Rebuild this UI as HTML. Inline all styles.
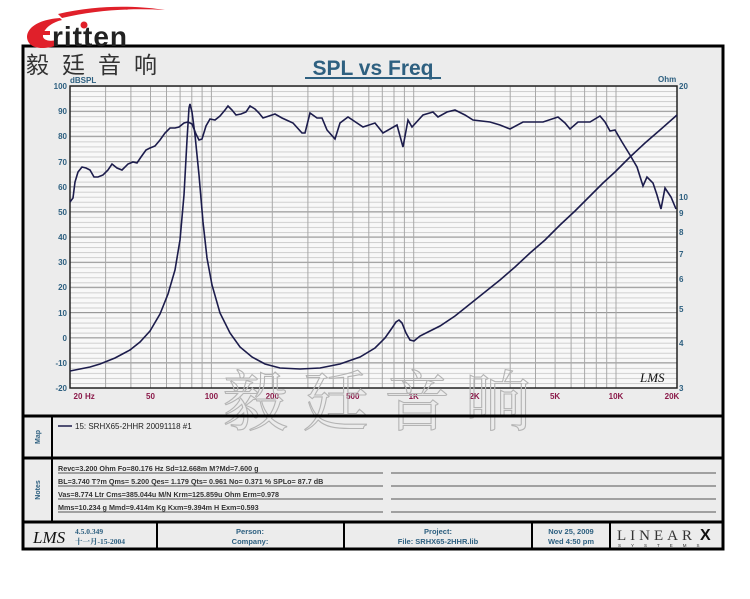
<!DOCTYPE html>
<html><head><meta charset="utf-8"><style>
html,body{margin:0;padding:0;background:#fff;}
svg{display:block;}
</style></head><body>
<svg width="750" height="599" viewBox="0 0 750 599" xmlns="http://www.w3.org/2000/svg" font-family="Liberation Sans, sans-serif">
<defs>
<pattern id="hm" x="70" y="86" width="10" height="5.0333" patternUnits="userSpaceOnUse">
<line x1="0" y1="0.5" x2="10" y2="0.5" stroke="#cfcfcf" stroke-width="1"/>
</pattern>
</defs>
<rect width="750" height="599" fill="#fff"/>
<!-- outer frame -->
<rect x="23" y="46" width="700" height="503" fill="#ececec" stroke="#000" stroke-width="3"/>
<!-- logo -->
<path d="M60,18 C30,20 22,35 30,44 C36,50 48,48 55,46 L58,40 C48,42 40,40 44,32 C48,24 58,21 62,20 Z" fill="#e0202a"/>
<path d="M58,14 C100,4 140,6 165,10 C130,8 95,10 62,18 Z" fill="#e0202a"/>
<rect x="36" y="31" width="14" height="4" fill="#e0202a"/>
<text x="52" y="46" font-size="28" font-weight="bold" fill="#222" letter-spacing="1">ritten</text>
<circle cx="84" cy="25" r="3.5" fill="#e0202a"/>
<text x="26" y="73" font-size="23" fill="#333" font-family="Liberation Sans, Noto Sans CJK SC, sans-serif" letter-spacing="13">毅廷音响</text>
<text x="373" y="75" font-size="21" font-weight="bold" fill="#2e6080" text-anchor="middle">SPL vs Freq</text>
<line x1="305" y1="78" x2="441" y2="78" stroke="#2e6080" stroke-width="2"/>
<!-- plot -->
<rect x="70" y="86" width="607" height="302" fill="#f8f8f8"/>
<rect x="70" y="86" width="607" height="302" fill="url(#hm)"/>
<g stroke="#999" stroke-width="1">
<line x1="70" x2="677" y1="111.2" y2="111.2"/><line x1="70" x2="677" y1="136.3" y2="136.3"/><line x1="70" x2="677" y1="161.5" y2="161.5"/><line x1="70" x2="677" y1="186.7" y2="186.7"/><line x1="70" x2="677" y1="211.8" y2="211.8"/><line x1="70" x2="677" y1="237" y2="237"/><line x1="70" x2="677" y1="262.2" y2="262.2"/><line x1="70" x2="677" y1="287.3" y2="287.3"/><line x1="70" x2="677" y1="312.5" y2="312.5"/><line x1="70" x2="677" y1="337.7" y2="337.7"/><line x1="70" x2="677" y1="362.8" y2="362.8"/>
</g>
<g stroke="#a8a8a8" stroke-width="1">
<line y1="86" y2="388" x1="105.6" x2="105.6"/><line y1="86" y2="388" x1="130.9" x2="130.9"/><line y1="86" y2="388" x1="150.5" x2="150.5"/><line y1="86" y2="388" x1="166.5" x2="166.5"/><line y1="86" y2="388" x1="180.1" x2="180.1"/><line y1="86" y2="388" x1="191.8" x2="191.8"/><line y1="86" y2="388" x1="202.1" x2="202.1"/><line y1="86" y2="388" x1="211.4" x2="211.4"/>
<line y1="86" y2="388" x1="272.3" x2="272.3"/><line y1="86" y2="388" x1="307.9" x2="307.9"/><line y1="86" y2="388" x1="333.2" x2="333.2"/><line y1="86" y2="388" x1="352.8" x2="352.8"/><line y1="86" y2="388" x1="368.8" x2="368.8"/><line y1="86" y2="388" x1="382.3" x2="382.3"/><line y1="86" y2="388" x1="394" x2="394"/><line y1="86" y2="388" x1="404.4" x2="404.4"/><line y1="86" y2="388" x1="413.7" x2="413.7"/>
<line y1="86" y2="388" x1="474.6" x2="474.6"/><line y1="86" y2="388" x1="510.2" x2="510.2"/><line y1="86" y2="388" x1="535.5" x2="535.5"/><line y1="86" y2="388" x1="555.1" x2="555.1"/><line y1="86" y2="388" x1="571.1" x2="571.1"/><line y1="86" y2="388" x1="584.6" x2="584.6"/><line y1="86" y2="388" x1="596.3" x2="596.3"/><line y1="86" y2="388" x1="606.7" x2="606.7"/><line y1="86" y2="388" x1="616" x2="616"/>
</g>
<rect x="70" y="86" width="607" height="302" fill="none" stroke="#222" stroke-width="1.5"/>
<!-- left axis -->
<g font-size="8" font-weight="bold" fill="#2e6080" text-anchor="end">
<text x="67" y="89">100</text><text x="67" y="114">90</text><text x="67" y="139">80</text><text x="67" y="165">70</text><text x="67" y="190">60</text><text x="67" y="215">50</text><text x="67" y="240">40</text><text x="67" y="265">30</text><text x="67" y="290">20</text><text x="67" y="316">10</text><text x="67" y="341">0</text><text x="67" y="366">-10</text><text x="67" y="391">-20</text>
</g>
<text x="70" y="83" font-size="8" font-weight="bold" fill="#2e6080">dBSPL</text>
<text x="658" y="82" font-size="8" font-weight="bold" fill="#2e6080">Ohm</text>
<g font-size="8" font-weight="bold" fill="#2e6080">
<text x="679" y="89">20</text><text x="679" y="200">10</text><text x="679" y="216">9</text><text x="679" y="235">8</text><text x="679" y="257">7</text><text x="679" y="282">6</text><text x="679" y="312">5</text><text x="679" y="346">4</text><text x="679" y="391">3</text>
</g>
<g font-size="8" font-weight="bold" fill="#8b1a4a" text-anchor="middle">
<text x="78" y="399">20</text><text x="85" y="399" text-anchor="start">Hz</text><text x="150.5" y="399">50</text><text x="211.4" y="399">100</text><text x="272.3" y="399">200</text><text x="352.8" y="399">500</text><text x="413.7" y="399">1K</text><text x="474.6" y="399">2K</text><text x="555.1" y="399">5K</text><text x="616" y="399">10K</text><text x="672" y="399">20K</text>
</g>
<text x="640" y="382" font-size="13" font-style="italic" fill="#111" font-family="Liberation Serif, serif">LMS</text>
<!-- impedance -->
<polyline fill="none" stroke="#1c1c4c" stroke-width="1.6" points="70,371 80,369 90,367 100,364 115,358 130,350 140,342 150,331 160,314 168,294 175,270 180,240 184,195 187,140 189,108 190,104 192,112 195,135 199,175 203,222 207,258 212,285 220,313 230,333 240,347 252,357 265,364 280,368 300,369 320,368 340,364 360,357 375,348 385,338 392,328 396,322 399,320 402,323 406,333 410,340 414,341 420,336 428,332 440,326 455,316 470,304 485,292 500,280 515,267 530,253 545,240 560,225 575,211 590,196 603,183 615,172 630,157 645,143 660,130 677,115"/>
<!-- SPL -->
<polyline fill="none" stroke="#1c1c4c" stroke-width="1.6" points="70,202 73,198 75,182 78,172 82,167 86,168 90,170 94,177 98,177 103,175 108,170 112,164 117,168 122,170 128,164 133,162 137,163 141,157 146,150 150,148 155,146 160,140 165,133 170,128 175,128 179,127 184,123 188,122 192,124 196,134 199,140 202,139 206,126 210,119 215,120 220,116 225,110 228,106 232,110 236,115 241,114 246,112 250,106 255,109 259,113 263,118 269,116 275,114 282,118 293,123 302,133 305,133 310,113 317,118 322,118 327,130 335,139 340,123 348,117 363,127 375,123 383,133 397,125 403,147 408,120 412,127 423,115 433,112 438,117 447,112 455,110 465,115 473,120 490,122 500,125 510,129 523,122 543,122 558,117 565,123 570,129 578,122 590,122 600,116 605,122 610,131 615,130 622,142 630,155 637,167 643,186 647,177 653,183 657,195 661,209 665,188 671,197 676,209"/>
<!-- watermark -->
<text x="222" y="425" font-size="66" fill="none" stroke="#b4b4b4" stroke-width="1.1" letter-spacing="15" font-family="Liberation Serif, Noto Serif CJK SC, serif">毅廷音响</text>
<!-- separators -->
<line x1="23" y1="416" x2="723" y2="416" stroke="#000" stroke-width="3"/>
<line x1="23" y1="458" x2="723" y2="458" stroke="#000" stroke-width="3"/>
<line x1="23" y1="522" x2="723" y2="522" stroke="#000" stroke-width="3"/>
<line x1="52" y1="416" x2="52" y2="522" stroke="#000" stroke-width="2"/>
<text transform="translate(40,437) rotate(-90)" font-size="7" font-weight="bold" fill="#2e6080" text-anchor="middle">Map</text>
<text transform="translate(40,490) rotate(-90)" font-size="7" font-weight="bold" fill="#2e6080" text-anchor="middle">Notes</text>
<line x1="58" y1="426" x2="72" y2="426" stroke="#1c1c4c" stroke-width="1.5"/>
<text x="75" y="429" font-size="8" fill="#222">15: SRHX65-2HHR  20091118   #1</text>
<g font-size="7.2" font-weight="bold" fill="#333">
<text x="58" y="471">Revc=3.200 Ohm  Fo=80.176 Hz  Sd=12.668m M?Md=7.600 g</text>
<text x="58" y="484">BL=3.740 T?m  Qms= 5.200  Qes= 1.179  Qts= 0.961  No= 0.371 %  SPLo= 87.7 dB</text>
<text x="58" y="497">Vas=8.774 Ltr  Cms=385.044u M/N  Krm=125.859u Ohm  Erm=0.978</text>
<text x="58" y="510">Mms=10.234 g  Mmd=9.414m Kg  Kxm=9.394m H  Exm=0.593</text>
</g>
<g stroke="#555" stroke-width="1">
<line x1="58" y1="473" x2="383" y2="473"/><line x1="391" y1="473" x2="716" y2="473"/>
<line x1="58" y1="486" x2="383" y2="486"/><line x1="391" y1="486" x2="716" y2="486"/>
<line x1="58" y1="499" x2="383" y2="499"/><line x1="391" y1="499" x2="716" y2="499"/>
<line x1="58" y1="512" x2="383" y2="512"/><line x1="391" y1="512" x2="716" y2="512"/>
</g>
<!-- footer -->
<g stroke="#000" stroke-width="2">
<line x1="157" y1="522" x2="157" y2="549"/><line x1="344" y1="522" x2="344" y2="549"/><line x1="532" y1="522" x2="532" y2="549"/><line x1="610" y1="522" x2="610" y2="549"/>
</g>
<text x="33" y="543" font-size="17" font-style="italic" fill="#111" font-family="Liberation Serif, serif">LMS</text>
<g font-size="7.5" font-weight="bold" fill="#2e6080" font-family="Liberation Serif, Noto Serif CJK SC, serif">
<text x="75" y="534">4.5.0.349</text><text x="75" y="544">十一月-15-2004</text>
</g>
<g font-size="7.5" font-weight="bold" fill="#2e6080" text-anchor="middle">
<text x="250" y="534">Person:</text><text x="250" y="544">Company:</text>
<text x="438" y="534">Project:</text><text x="438" y="544">File: SRHX65-2HHR.lib</text>
<text x="571" y="534">Nov 25, 2009</text><text x="571" y="544">Wed  4:50 pm</text>
</g>
<text x="617" y="540" font-size="15" fill="#333" letter-spacing="4" font-family="Liberation Serif, serif">LINEAR</text>
<text x="700" y="540" font-size="16" font-weight="bold" fill="#111">X</text>
<text x="618" y="547" font-size="4.5" fill="#333" letter-spacing="10">SYSTEMS</text>
</svg>
</body></html>
